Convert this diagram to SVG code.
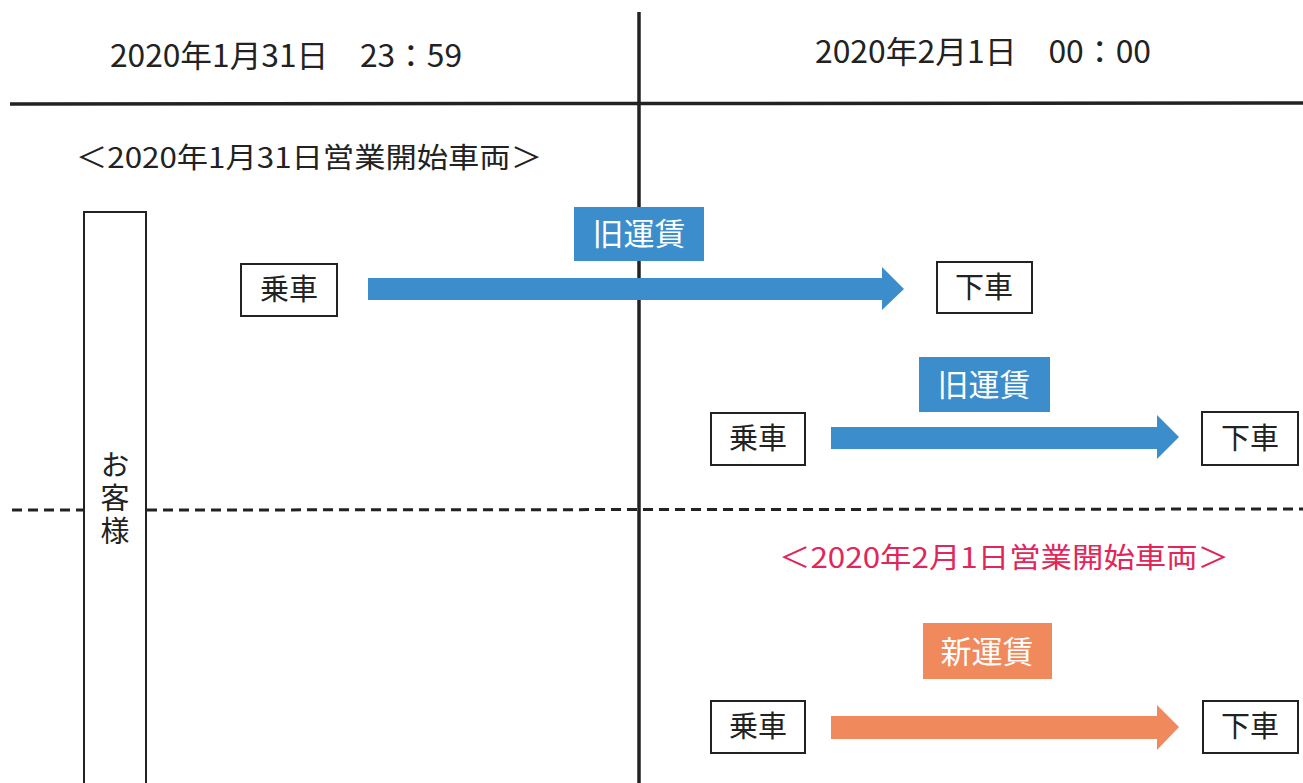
<svg xmlns="http://www.w3.org/2000/svg" width="1303" height="783" viewBox="0 0 1303 783">
<defs>
<style>
text{font-family:"Noto Sans CJK JP","Noto Sans",sans-serif;fill:#222;}
.hdr{font-size:31px;}
.sub{font-size:28px;}
.red{font-size:28px;fill:#e2265a;}
.box{fill:#fff;stroke:#222;stroke-width:2;}
.bt{font-size:29px;text-anchor:middle;}
.vt{font-size:29px;writing-mode:vertical-rl;letter-spacing:4px;}
.lbl{font-size:31px;fill:#fff;text-anchor:middle;}
.blue{fill:#3c8dcb;}
.orange{fill:#f08a5c;}
.solid{stroke:#222;stroke-width:3.5;fill:none;}
.dash{stroke:#222;stroke-width:3;stroke-dasharray:10 6;fill:none;}
</style>
</defs>
<rect width="1303" height="783" fill="#fff"/>
<g id="grid">
<line class="solid" x1="10" y1="104" x2="1303" y2="103"/>
<line class="solid" x1="639" y1="12" x2="639" y2="783"/>
<line class="dash" x1="12" y1="510" x2="84" y2="510"/>
<line class="dash" x1="147" y1="510" x2="1303" y2="509"/>
</g>
<g id="headers">
<text class="hdr" x="110" y="67" textLength="352" lengthAdjust="spacingAndGlyphs">2020年1月31日　23：59</text>
<text class="hdr" x="815" y="63" textLength="336" lengthAdjust="spacingAndGlyphs">2020年2月1日　00：00</text>
<text class="sub" x="76" y="168" textLength="466" lengthAdjust="spacingAndGlyphs">＜2020年1月31日営業開始車両＞</text>
<text class="red" x="779" y="568" textLength="450" lengthAdjust="spacingAndGlyphs">＜2020年2月1日営業開始車両＞</text>
</g>
<g id="customer">
<rect class="box" x="84" y="212" width="62" height="580" stroke-width="1.5"/>
<text class="vt" x="115" y="450">お客様</text>
</g>
<g id="connectors">
<polygon class="blue" points="368,278 882,278 882,267 904,289 882,310 882,300 368,300"/>
<polygon class="blue" points="831,427 1157,427 1157,415 1179,437 1157,459 1157,449 831,449"/>
<polygon class="orange" points="831,716 1157,716 1157,705 1179,727 1157,750 1157,739 831,739"/>
</g>
<g id="fare1">
<rect class="blue" x="574" y="207" width="130" height="54"/>
<text class="lbl" x="639" y="245">旧運賃</text>
</g>
<g id="fare2">
<rect class="blue" x="919" y="357" width="131" height="55"/>
<text class="lbl" x="984" y="396">旧運賃</text>
</g>
<g id="fare3">
<rect class="orange" x="923" y="623" width="129" height="56"/>
<text class="lbl" x="987" y="663">新運賃</text>
</g>
<g id="board1">
<rect class="box" x="241" y="264" width="96" height="52"/>
<text class="bt" x="289" y="300">乗車</text>
</g>
<g id="alight1">
<rect class="box" x="937" y="262" width="95" height="51"/>
<text class="bt" x="984" y="298">下車</text>
</g>
<g id="board2">
<rect class="box" x="711" y="413" width="94" height="52"/>
<text class="bt" x="758" y="449">乗車</text>
</g>
<g id="alight2">
<rect class="box" x="1202" y="412" width="96" height="53"/>
<text class="bt" x="1250" y="449">下車</text>
</g>
<g id="board3">
<rect class="box" x="711" y="701" width="94" height="52"/>
<text class="bt" x="758" y="737">乗車</text>
</g>
<g id="alight3">
<rect class="box" x="1203" y="701" width="95" height="52"/>
<text class="bt" x="1250" y="737">下車</text>
</g>
</svg>
